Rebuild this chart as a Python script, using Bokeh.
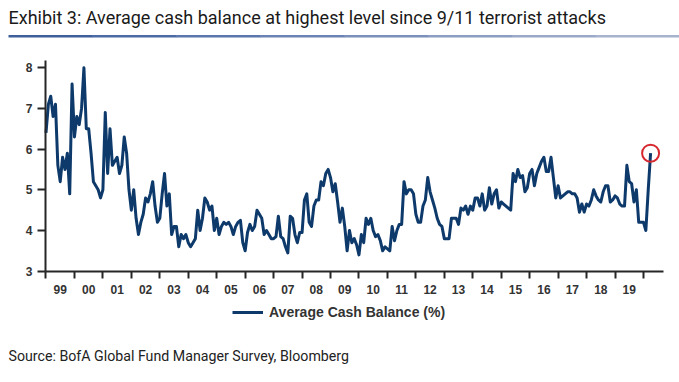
from bokeh.plotting import figure
from bokeh.models import (Range1d, FixedTicker, Legend, LegendItem, Label,
                          BoxAnnotation, CustomJSTickFormatter, ColumnDataSource)
from bokeh.embed import file_html
from bokeh.resources import INLINE

# ---------------- data (monthly, Jan 1999 - Apr 2020) ----------------
year_labels = ["99", "00", "01", "02", "03", "04", "05", "06", "07", "08", "09",
               "10", "11", "12", "13", "14", "15", "16", "17", "18", "19"]
y_ticks = [3, 4, 5, 6, 7, 8]

cash_1999 = [6.4, 7.1, 7.3, 6.8, 7.1, 5.6, 5.2, 5.8, 5.5, 5.9, 4.9, 7.6]
cash_2000 = [6.3, 6.8, 6.6, 7.0, 8.0, 6.5, 6.5, 5.9, 5.2, 5.1, 5.0, 4.8]
cash_2001 = [5.0, 6.9, 5.4, 6.5, 5.6, 5.7, 5.8, 5.4, 5.6, 6.3, 5.9, 5.0]
cash_2002 = [4.5, 5.0, 4.3, 3.9, 4.2, 4.4, 4.8, 4.7, 4.9, 5.2, 4.6, 4.2]
cash_2003 = [4.3, 4.9, 5.4, 4.6, 4.9, 3.9, 4.1, 4.1, 3.6, 3.9, 3.8, 3.9]
cash_2004 = [3.7, 3.6, 3.7, 3.8, 4.5, 4.0, 4.3, 4.8, 4.7, 4.5, 4.6, 4.0]
cash_2005 = [4.3, 3.9, 4.1, 4.2, 4.15, 4.2, 4.1, 3.9, 4.1, 4.2, 4.25, 3.7]
cash_2006 = [3.5, 3.95, 4.15, 4.0, 4.1, 4.5, 4.4, 4.3, 3.9, 4.0, 3.9, 3.8]
cash_2007 = [3.8, 3.85, 4.35, 3.85, 3.8, 3.6, 3.45, 4.35, 4.3, 3.9, 3.7, 3.95]
cash_2008 = [3.95, 4.75, 4.9, 4.2, 4.1, 4.6, 4.75, 4.75, 5.2, 5.1, 5.4, 5.5]
cash_2009 = [5.3, 4.95, 5.15, 4.7, 4.2, 4.55, 4.1, 3.5, 4.0, 3.7, 3.8, 3.65]
cash_2010 = [3.4, 3.9, 3.7, 4.3, 4.15, 4.3, 4.0, 3.85, 3.9, 3.75, 3.5, 3.6]
cash_2011 = [3.55, 3.5, 4.1, 3.75, 4.0, 4.15, 4.15, 5.2, 4.9, 5.0, 5.0, 4.9]
cash_2012 = [4.4, 4.2, 4.2, 4.6, 4.75, 5.3, 4.95, 4.75, 4.55, 4.3, 4.15, 4.1]
cash_2013 = [3.8, 3.8, 3.8, 4.3, 4.3, 4.3, 4.15, 4.55, 4.5, 4.6, 4.4, 4.6]
cash_2014 = [4.5, 4.8, 4.8, 4.6, 4.9, 4.5, 4.6, 5.05, 4.65, 4.9, 5.0, 4.55]
cash_2015 = [4.7, 4.65, 4.6, 4.55, 4.5, 5.4, 5.2, 5.5, 5.3, 5.35, 4.95, 5.05]
cash_2016 = [5.4, 5.5, 5.1, 5.4, 5.55, 5.7, 5.8, 5.45, 5.45, 5.8, 5.3, 4.8]
cash_2017 = [5.1, 4.8, 4.85, 4.9, 4.95, 4.95, 4.9, 4.9, 4.8, 4.45, 4.65, 4.45]
cash_2018 = [4.65, 4.6, 4.75, 5.0, 4.85, 4.75, 4.7, 4.95, 5.1, 5.1, 4.7, 4.75]
cash_2019 = [4.85, 4.8, 4.65, 4.6, 4.6, 5.6, 5.2, 5.15, 4.7, 5.0, 4.2, 4.2]
cash_2020 = [4.2, 4.0, 5.0, 5.9]

cash_balance = (cash_1999 + cash_2000 + cash_2001 + cash_2002 + cash_2003 +
                cash_2004 + cash_2005 + cash_2006 + cash_2007 + cash_2008 +
                cash_2009 + cash_2010 + cash_2011 + cash_2012 + cash_2013 +
                cash_2014 + cash_2015 + cash_2016 + cash_2017 + cash_2018 +
                cash_2019 + cash_2020)
month_index = list(range(len(cash_balance)))   # months since Jan 1999

TITLE = "Exhibit 3: Average cash balance at highest level since 9/11 terrorist attacks"
SOURCE = "Source: BofA Global Fund Manager Survey, Bloomberg"
SERIES = "Average Cash Balance (%)"

# ---------------- figure: frame covers the whole canvas ----------------
W, H = 679, 382
p = figure(width=W, height=H, output_backend="svg", toolbar_location=None,
           x_range=Range1d(-19.19, 267.19), y_range=Range1d(0.265, 9.651),
           min_border=0, min_border_left=0, min_border_right=0,
           min_border_top=0, min_border_bottom=0,
           background_fill_color="white", border_fill_color="white")
p.title.visible = False
p.outline_line_color = None
p.xgrid.visible = False
p.ygrid.visible = False

src = ColumnDataSource(dict(m=month_index, v=cash_balance))
line_r = p.line("m", "v", source=src, line_color="#0d3a6b", line_width=3,
                line_join="round")

last = ColumnDataSource(dict(m=month_index[-1:], v=cash_balance[-1:]))
p.scatter("m", "v", source=last, marker="circle", size=17, fill_color=None,
          line_color="#d7282f", line_width=2)

axis_col = "#262626"
lab_col = "#333333"

# x axis: labels centred in each year, ticks at year boundaries
xa = p.xaxis[0]
xa.fixed_location = 3
xa.bounds = (-0.2, 260.4)
xa.ticker = FixedTicker(ticks=[12 * i + 6 for i in range(len(year_labels))],
                        minor_ticks=[12 * i for i in range(len(year_labels) + 1)])
xa.formatter = CustomJSTickFormatter(args=dict(labels=year_labels),
                                     code="return labels[Math.floor(tick / 12)];")
xa.major_tick_out = 0
xa.major_tick_in = 0
xa.minor_tick_out = 7
xa.minor_tick_in = 0
xa.minor_tick_line_width = 2
xa.minor_tick_line_color = axis_col
xa.axis_line_width = 2
xa.axis_line_color = axis_col
xa.major_label_standoff = 7
xa.major_label_text_font = "Liberation Sans"
xa.major_label_text_font_style = "bold"
xa.major_label_text_font_size = "12px"
xa.major_label_text_color = lab_col

ya = p.yaxis[0]
ya.fixed_location = -0.2
ya.bounds = (3, 8.18)
ya.ticker = FixedTicker(ticks=y_ticks)
ya.major_tick_out = 8
ya.major_tick_in = 0
ya.minor_tick_line_color = None
ya.major_tick_line_width = 2
ya.major_tick_line_color = axis_col
ya.axis_line_width = 2
ya.axis_line_color = axis_col
ya.major_label_standoff = 5
ya.major_label_text_font = "Liberation Sans"
ya.major_label_text_font_style = "bold"
ya.major_label_text_font_size = "12px"
ya.major_label_text_color = lab_col

# legend under the axis (frame-relative pixels, origin bottom-left)
legend = Legend(items=[LegendItem(label=SERIES, renderers=[line_r])],
                location=(232, 60), orientation="horizontal", padding=0,
                margin=0, spacing=0, glyph_width=31, glyph_height=20,
                label_standoff=6, border_line_color=None,
                background_fill_alpha=0, label_text_font="Liberation Sans",
                label_text_font_style="bold", label_text_font_size="14px",
                label_text_color=lab_col)
p.add_layout(legend)

# title
p.add_layout(Label(x=8, y=H - 17, x_units="screen", y_units="screen",
                   text=TITLE, text_font="Roboto", text_font_size="18px",
                   text_color="#1a1a1a", text_baseline="middle"))

# blue rule under the title, shading from blue to grey-blue
rule_cols = ["#3f5f9c", "#4c6aa5", "#5a76ad", "#6a83b4", "#7a90bb", "#8b9dc2",
             "#9aa9c8", "#a8b4cd"]
seg = (W - 8) / len(rule_cols)
for i, c in enumerate(rule_cols):
    p.add_layout(BoxAnnotation(left=8 + i * seg, right=8 + (i + 1) * seg + 0.5,
                               top=H - 34.5, bottom=H - 37,
                               left_units="screen", right_units="screen",
                               top_units="screen", bottom_units="screen",
                               fill_color=c, fill_alpha=1, line_color=None))

# source note
p.add_layout(Label(x=8, y=H - 355, x_units="screen", y_units="screen",
                   text=SOURCE, text_font="Roboto", text_font_size="14.2px",
                   text_color="#222222", text_baseline="middle"))

open("out.html", "w").write(file_html(p, INLINE))
